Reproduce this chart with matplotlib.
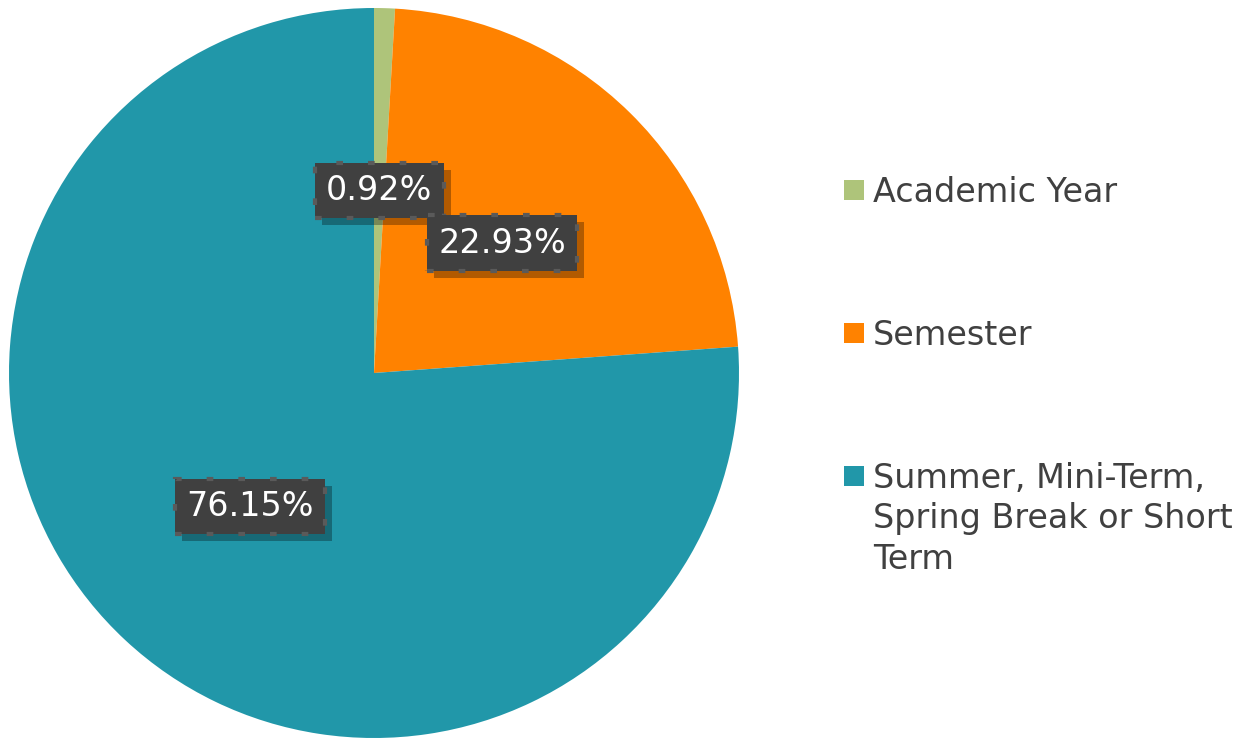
import textwrap

import matplotlib
matplotlib.use("Agg")
import matplotlib.pyplot as plt
import matplotlib.patheffects as pe
from matplotlib.patches import Rectangle


# data
categories = ["Academic Year", "Semester", "Summer, Mini-Term, Spring Break or Short Term"]
shares = [0.92, 22.93, 76.15]
colors = ["#AEC47A", "#FF8200", "#2197A9"]


fig = plt.figure(figsize=(12.54, 7.4), dpi=100)
W, H = 1254, 740

# pie area in pixels: left 9, top 8, size 730
ax = fig.add_axes([9 / W, (H - 738) / H, 730 / W, 730 / H])
wedges, texts, autotexts = ax.pie(
    shares,
    colors=colors,
    startangle=90,
    counterclock=False,
    autopct="%.2f%%",
    pctdistance=0.5,
    wedgeprops=dict(linewidth=0),
    textprops=dict(color="white", fontsize=24, family="DejaVu Sans"),
)
ax.set_xlim(-1, 1)
ax.set_ylim(-1, 1)
ax.set_aspect("equal")

# dark label boxes with dotted border and shadow
for t in autotexts:
    t.set_bbox(dict(boxstyle="square,pad=0.34", facecolor="#404040",
                    edgecolor="#5a5a5a", linewidth=3, linestyle=(0, (1.6, 6))))
    t.get_bbox_patch().set_path_effects([
        pe.SimplePatchShadow(offset=(5, -5), shadow_rgbFace="black", alpha=0.3),
        pe.Normal(),
    ])

# legend, first line of each entry next to its square
for i, (cat, c) in enumerate(zip(categories, colors)):
    base = 203 + i * 143
    fig.patches.append(Rectangle((844 / W, 1 - (base - 3) / H), 20 / W, 20 / H,
                                 transform=fig.transFigure, facecolor=c,
                                 edgecolor="none"))
    fig.text(873 / W, 1 - (base - 27) / H, textwrap.fill(cat, 21), fontsize=24,
             color="#404040", va="top", ha="left", linespacing=1.28)

plt.savefig("out.png", dpi=100)
